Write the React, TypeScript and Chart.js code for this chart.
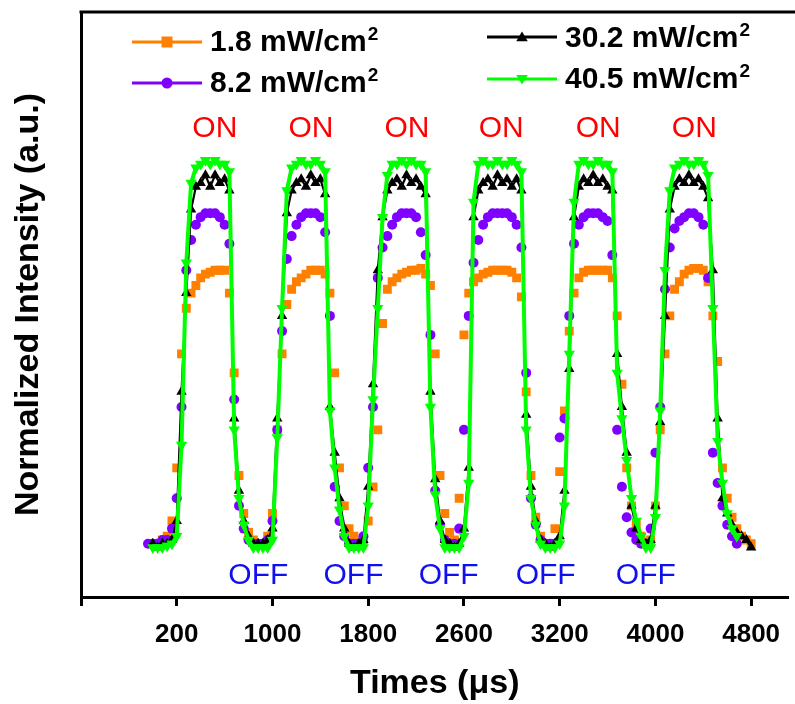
import React, { useEffect, useRef } from "react";
import { Chart, registerables } from "chart.js";

Chart.register(...registerables);

// Sampling instants (µs) shared by all four intensity traces
const times = [
  -40, 0, 40, 80, 120, 160, 200, 240, 280, 320,
  360, 400, 440, 480, 520, 560, 600, 640, 680, 720,
  760, 800, 840, 880, 920, 960, 1000, 1040, 1080, 1120,
  1160, 1200, 1240, 1280, 1320, 1360, 1400, 1440, 1480, 1520,
  1560, 1600, 1640, 1680, 1720, 1760, 1800, 1840, 1880, 1920,
  1960, 2000, 2040, 2080, 2120, 2160, 2200, 2240, 2280, 2320,
  2360, 2400, 2440, 2480, 2520, 2560, 2600, 2640, 2680, 2720,
  2760, 2800, 2840, 2880, 2920, 2960, 3000, 3040, 3080, 3120,
  3160, 3200, 3240, 3280, 3320, 3360, 3400, 3440, 3480, 3520,
  3560, 3600, 3640, 3680, 3720, 3760, 3800, 3840, 3880, 3920,
  3960, 4000, 4040, 4080, 4120, 4160, 4200, 4240, 4280, 4320,
  4360, 4400, 4440, 4480, 4520, 4560, 4600, 4640, 4680, 4720,
  4760, 4800, 4840, 4880, 4920, 4960, 5000,
];

// Normalized intensity at 1.8 mW/cm²
const i18 = [
  null, 0.0, 0.0, 0.01, 0.02, 0.06, 0.2, 0.5, 0.62, 0.66,
  0.68, 0.7, 0.71, 0.715, 0.72, 0.72, 0.72, 0.66, 0.45, 0.18,
  0.08, 0.03, 0.01, 0.0, 0.0, 0.02, 0.08, 0.3, 0.5, 0.63,
  0.67, 0.69, 0.7, 0.71, 0.72, 0.72, 0.72, 0.71, 0.66, 0.45,
  0.2, 0.1, 0.04, 0.02, 0.0, 0.01, 0.06, 0.15, 0.3, 0.58,
  0.67, 0.69, 0.7, 0.71, 0.715, 0.72, 0.72, 0.725, 0.71, 0.68,
  0.5, 0.18, 0.08, 0.03, 0.01, 0.12, 0.55, 0.66, 0.69, 0.7,
  0.71, 0.715, 0.72, 0.72, 0.72, 0.72, 0.715, 0.7, 0.65, 0.4,
  0.18, 0.07, 0.02, 0.0, 0.0, 0.04, 0.19, 0.35, 0.56, 0.66,
  0.7, 0.715, 0.72, 0.72, 0.72, 0.72, 0.72, 0.7, 0.6, 0.42,
  0.2, 0.1, 0.05, 0.02, 0.0, 0.01, 0.1, 0.3, 0.5, 0.6,
  0.67, 0.69, 0.71, 0.72, 0.725, 0.725, 0.72, 0.69, 0.6, 0.48,
  0.2, 0.12, 0.07, 0.04, 0.02, 0.01, 0.0,
];

// Normalized intensity at 8.2 mW/cm²
const i82 = [
  0.0, 0.0, 0.0, 0.01, 0.01, 0.04, 0.12, 0.36, 0.72, 0.8,
  0.84, 0.86, 0.87, 0.87, 0.87, 0.86, 0.84, 0.79, 0.38, 0.1,
  0.04, 0.01, 0.0, 0.0, 0.0, 0.01, 0.06, 0.3, 0.56, 0.75,
  0.81, 0.84, 0.86, 0.87, 0.87, 0.87, 0.86, 0.82, 0.6, 0.15,
  0.06, 0.02, 0.0, 0.0, 0.0, 0.02, 0.2, 0.36, 0.7, 0.78,
  0.81, 0.84, 0.86, 0.87, 0.87, 0.87, 0.86, 0.82, 0.76, 0.55,
  0.14, 0.05, 0.01, 0.0, 0.0, 0.04, 0.3, 0.6, 0.74, 0.8,
  0.84, 0.86, 0.87, 0.87, 0.87, 0.87, 0.86, 0.84, 0.78, 0.45,
  0.12, 0.05, 0.01, 0.0, 0.0, 0.0, 0.28, 0.33, 0.6, 0.79,
  0.84, 0.86, 0.87, 0.87, 0.87, 0.86, 0.85, 0.76, 0.3, 0.15,
  0.07, 0.03, 0.01, 0.0, 0.0, 0.04, 0.24, 0.36, 0.67, 0.78,
  0.83, 0.85, 0.86, 0.87, 0.87, 0.86, 0.84, 0.7, 0.24, 0.16,
  0.1, 0.05, 0.02, 0.0, null, null, null,
];

// Normalized intensity at 30.2 mW/cm²
const i302 = [
  null, 0.0, -0.01, 0.0, 0.0, 0.01, 0.06, 0.4, 0.66, 0.88,
  0.94, 0.95, 0.97, 0.94, 0.97, 0.95, 0.96, 0.93, 0.33, 0.14,
  0.06, 0.02, 0.0, 0.0, 0.0, 0.01, 0.04, 0.33, 0.6, 0.87,
  0.93, 0.95, 0.96, 0.94, 0.97, 0.95, 0.96, 0.92, 0.36, 0.24,
  0.12, 0.04, 0.0, -0.01, 0.0, 0.01, 0.15, 0.42, 0.72, 0.86,
  0.93, 0.95, 0.96, 0.94, 0.97, 0.95, 0.96, 0.94, 0.92, 0.4,
  0.17, 0.06, 0.01, 0.0, -0.01, 0.0, 0.04, 0.2, 0.86, 0.93,
  0.95, 0.96, 0.94, 0.97, 0.95, 0.96, 0.94, 0.96, 0.93, 0.34,
  0.15, 0.06, 0.01, 0.0, -0.01, 0.0, 0.02, 0.14, 0.46, 0.86,
  0.94, 0.96, 0.95, 0.97, 0.95, 0.96, 0.94, 0.93, 0.5, 0.36,
  0.24, 0.1, 0.04, 0.01, 0.0, 0.01, 0.1, 0.32, 0.6, 0.88,
  0.94, 0.96, 0.95, 0.97, 0.95, 0.96, 0.94, 0.91, 0.72, 0.33,
  0.12, 0.08, 0.05, 0.03, 0.02, 0.01, -0.01,
];

// Normalized intensity at 40.5 mW/cm²
const i405 = [
  null, -0.01, -0.01, -0.01, -0.005, 0.0, 0.02, 0.26, 0.74, 0.95,
  0.99, 1.0, 1.01, 1.0, 1.01, 1.0, 1.0, 0.98, 0.3, 0.12,
  0.05, 0.01, -0.01, -0.01, -0.01, -0.01, 0.01, 0.28, 0.62, 0.93,
  0.99, 1.0, 1.01, 1.0, 1.0, 1.01, 1.0, 0.98, 0.35, 0.2,
  0.09, 0.02, -0.01, -0.01, -0.01, -0.01, 0.1, 0.38, 0.62, 0.86,
  0.97, 1.0, 1.0, 1.01, 1.0, 1.01, 1.0, 1.0, 0.98, 0.36,
  0.13, 0.04, -0.01, -0.01, -0.01, -0.01, 0.02, 0.16, 0.9, 1.0,
  1.01, 1.0, 1.0, 1.01, 1.0, 1.0, 1.01, 1.0, 0.98, 0.3,
  0.12, 0.05, 0.0, -0.01, -0.01, -0.01, 0.0, 0.1, 0.5, 0.9,
  1.0, 1.01, 1.0, 1.0, 1.01, 1.0, 1.0, 0.98, 0.45, 0.33,
  0.22, 0.12, 0.06, 0.02, -0.01, -0.01, 0.07, 0.35, 0.72, 0.93,
  0.99, 1.0, 1.01, 1.0, 1.0, 1.01, 1.0, 0.97, 0.62, 0.27,
  0.16, 0.08, 0.04, 0.02, null, null, null,
];

const seriesNames = ["1.8 mW/cm²", "8.2 mW/cm²", "30.2 mW/cm²", "40.5 mW/cm²"];

// Axis ticks: positions on the time scale and the labels printed under them
const tickValues = [-600, 200, 1000, 1800, 2600, 3400, 4200, 5000];
const tickLabels = ["", "200", "1000", "1800", "2600", "3200", "4000", "4800"];

// Light ON / OFF annotations (time position of each label)
const onTimes = [518, 1321, 2124, 2911, 3722, 4525];
const offTimes = [882, 1677, 2472, 3283, 4120];
const onLevel = 1.094;
const offLevel = -0.084;

const FONT = '"Liberation Sans", Arial, Helvetica, sans-serif';

const toPoints = (vals: (number | null)[]) =>
  times
    .map((t, i) => ({ x: t, y: vals[i] }))
    .filter((p) => p.y !== null) as { x: number; y: number }[];

type MarkerKind = "rect" | "circle" | "triUp" | "triDown";

function drawMarker(
  ctx: CanvasRenderingContext2D,
  kind: MarkerKind,
  x: number,
  y: number,
  r: number,
  color: string
) {
  ctx.save();
  ctx.fillStyle = color;
  ctx.beginPath();
  if (kind === "rect") {
    ctx.rect(x - r, y - r, 2 * r, 2 * r);
  } else if (kind === "circle") {
    ctx.arc(x, y, r, 0, Math.PI * 2);
  } else if (kind === "triUp") {
    ctx.moveTo(x, y - r);
    ctx.lineTo(x + r * 1.05, y + r * 0.75);
    ctx.lineTo(x - r * 1.05, y + r * 0.75);
    ctx.closePath();
  } else {
    ctx.moveTo(x, y + r);
    ctx.lineTo(x + r * 1.05, y - r * 0.75);
    ctx.lineTo(x - r * 1.05, y - r * 0.75);
    ctx.closePath();
  }
  ctx.fill();
  ctx.restore();
}

const legendItems: {
  name: string;
  color: string;
  kind: MarkerKind;
  x: number;
  y: number;
  textY: number;
}[] = [
  { name: seriesNames[0], color: "#ff8000", kind: "rect", x: 132, y: 42, textY: 51 },
  { name: seriesNames[1], color: "#8000ff", kind: "circle", x: 132, y: 83, textY: 92 },
  { name: seriesNames[2], color: "#000000", kind: "triUp", x: 487, y: 37, textY: 47 },
  { name: seriesNames[3], color: "#00ff00", kind: "triDown", x: 487, y: 79, textY: 88 },
];

// draws "mW/cm²" with a raised, smaller "2"
function drawUnitText(ctx: CanvasRenderingContext2D, text: string, x: number, y: number) {
  const sup = text.endsWith("²");
  const base = sup ? text.slice(0, -1) : text;
  ctx.font = `bold 30px ${FONT}`;
  ctx.fillText(base, x, y);
  if (sup) {
    const w = ctx.measureText(base).width;
    ctx.font = `bold 19px ${FONT}`;
    ctx.fillText("2", x + w + 1, y - 11);
  }
}

const decorPlugin = {
  id: "decor",
  afterDraw(chart: any) {
    const { ctx, chartArea, scales } = chart;
    const xs = scales.x;
    const ys = scales.y;
    ctx.save();

    // top frame line (open on the right)
    ctx.strokeStyle = "#000";
    ctx.lineWidth = 3;
    ctx.beginPath();
    ctx.moveTo(chartArea.left - 1.5, chartArea.top);
    ctx.lineTo(chart.width, chartArea.top);
    ctx.stroke();

    // ON / OFF labels
    ctx.font = `30px ${FONT}`;
    ctx.textAlign = "center";
    ctx.textBaseline = "middle";
    ctx.fillStyle = "#ff0000";
    onTimes.forEach((t) => {
      ctx.fillText("ON", xs.getPixelForValue(t), ys.getPixelForValue(onLevel));
    });
    ctx.fillStyle = "#1010ee";
    offTimes.forEach((t) => {
      ctx.fillText("OFF", xs.getPixelForValue(t), ys.getPixelForValue(offLevel));
    });

    // legend
    ctx.textAlign = "left";
    ctx.textBaseline = "alphabetic";
    legendItems.forEach((it) => {
      ctx.strokeStyle = it.color;
      ctx.lineWidth = 3;
      ctx.beginPath();
      ctx.moveTo(it.x, it.y);
      ctx.lineTo(it.x + 70, it.y);
      ctx.stroke();
      drawMarker(ctx, it.kind, it.x + 35, it.y, 5.5, it.color);
      ctx.fillStyle = "#000";
      drawUnitText(ctx, it.name, it.x + 78, it.textY);
    });
    ctx.restore();
  },
};

export default function App() {
  const canvasRef = useRef<HTMLCanvasElement | null>(null);

  useEffect(() => {
    document.body.style.margin = "0";
    const canvas = canvasRef.current;
    if (!canvas) return;

    const chart = new Chart(canvas, {
      type: "scatter",
      data: {
        datasets: [
          {
            label: seriesNames[0],
            data: toPoints(i18),
            showLine: false,
            pointStyle: "rect",
            pointRadius: 6.3,
            backgroundColor: "#ff8000",
            borderColor: "#ff8000",
            borderWidth: 0,
            order: 3,
          },
          {
            label: seriesNames[1],
            data: toPoints(i82),
            showLine: false,
            pointStyle: "circle",
            pointRadius: 5,
            backgroundColor: "#8000ff",
            borderColor: "#8000ff",
            borderWidth: 0,
            order: 2,
          },
          {
            label: seriesNames[2],
            data: toPoints(i302),
            showLine: true,
            pointStyle: "triangle",
            pointRadius: 6,
            backgroundColor: "#000000",
            borderColor: "#000000",
            borderWidth: 2.2,
            pointBorderWidth: 0,
            order: 1,
          },
          {
            label: seriesNames[3],
            data: toPoints(i405),
            showLine: true,
            pointStyle: "triangle",
            pointRotation: 180,
            pointRadius: 6.5,
            backgroundColor: "#00ff00",
            borderColor: "#00ff00",
            borderWidth: 4,
            pointBorderWidth: 0,
            order: 0,
          },
        ],
      },
      options: {
        responsive: false,
        animation: false,
        layout: { padding: { top: 12, right: 0, left: 0, bottom: 0 } },
        plugins: {
          legend: { display: false },
          tooltip: { enabled: false },
        },
        scales: {
          x: {
            type: "linear",
            min: -600,
            max: 5312,
            afterBuildTicks: (s: any) => {
              s.ticks = tickValues.map((v) => ({ value: v }));
            },
            afterFit: (s: any) => {
              s.height = 107;
            },
            ticks: {
              autoSkip: false,
              maxRotation: 0,
              padding: 13,
              color: "#000",
              font: { family: FONT, size: 26, weight: "bold" },
              callback: (v: any) => {
                const i = tickValues.indexOf(Number(v));
                return i >= 0 ? tickLabels[i] : "";
              },
            },
            grid: {
              display: true,
              drawOnChartArea: false,
              drawTicks: true,
              tickLength: 9,
              tickWidth: 3,
              tickColor: "#000",
            },
            border: { display: true, width: 3, color: "#000" },
            title: {
              display: true,
              text: "Times (μs)",
              color: "#000",
              font: { family: FONT, size: 34, weight: "bold" },
              padding: { top: 0, bottom: 0 },
            },
          },
          y: {
            type: "linear",
            min: -0.14,
            max: 1.4,
            afterFit: (s: any) => {
              s.width = 81;
            },
            ticks: { display: false },
            grid: { display: false },
            border: { display: true, width: 3, color: "#000" },
            title: {
              display: true,
              text: "Normalized Intensity (a.u.)",
              color: "#000",
              font: { family: FONT, size: 34, weight: "bold" },
              padding: { top: 8, bottom: 0 },
            },
          },
        },
      },
      plugins: [decorPlugin],
    } as any);

    return () => chart.destroy();
  }, []);

  return (
    <div style={{ width: 795, height: 704 }}>
      <canvas ref={canvasRef} width={795} height={704} style={{ display: "block" }} />
    </div>
  );
}
